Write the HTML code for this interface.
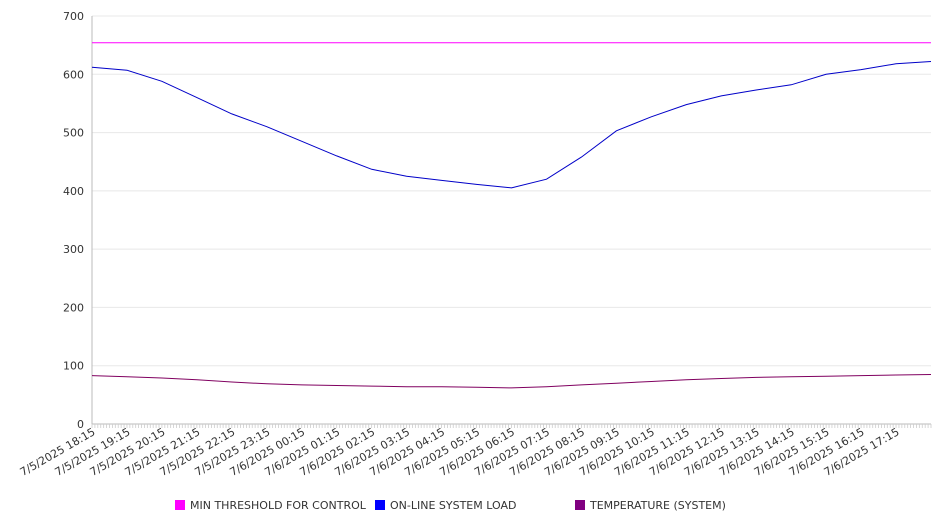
<!DOCTYPE html>
<html><head><meta charset="utf-8"><style>
body{margin:0;background:#fff;font-family:"DejaVu Sans","Liberation Sans",sans-serif;}
svg text{font-family:"DejaVu Sans","Liberation Sans",sans-serif;fill:#333;}
</style></head><body>
<svg id="chart" width="946" height="526" xmlns="http://www.w3.org/2000/svg"></svg>
<script>
const hourLabels=["7/5/2025 18:15","7/5/2025 19:15","7/5/2025 20:15","7/5/2025 21:15","7/5/2025 22:15","7/5/2025 23:15","7/6/2025 00:15","7/6/2025 01:15","7/6/2025 02:15","7/6/2025 03:15","7/6/2025 04:15","7/6/2025 05:15","7/6/2025 06:15","7/6/2025 07:15","7/6/2025 08:15","7/6/2025 09:15","7/6/2025 10:15","7/6/2025 11:15","7/6/2025 12:15","7/6/2025 13:15","7/6/2025 14:15","7/6/2025 15:15","7/6/2025 16:15","7/6/2025 17:15"];
const yTicks=[0,100,200,300,400,500,600,700];
const loadValues=[612,607,588,560,532,510,485,460,437,425,418,411,405,420,458,503,527,548,563,573,582,600,608,618,622];
const tempValues=[83,81,79,76,72,69,67,66,65,64,64,63,62,64,67,70,73,76,78,80,81,82,83,84,85];
const thresholdValues=[654,654];
const legendNames=["MIN THRESHOLD FOR CONTROL","ON-LINE SYSTEM LOAD","TEMPERATURE (SYSTEM)"];
const legendColors=["#ff00ff","#0000ff","#800080"];

const svg=document.getElementById('chart');const NS="http://www.w3.org/2000/svg";
const L=92,R=931,T=16,B=424,ymax=700,hours=24;
const y=v=>B-(v/ymax)*(B-T);
const xh=h=>L+(h/hours)*(R-L);
function mk(tag,attrs,parent){const e=document.createElementNS(NS,tag);for(const k in attrs)e.setAttribute(k,attrs[k]);(parent||svg).appendChild(e);return e;}
yTicks.forEach(v=>{
 const g=mk('line',{x1:L,x2:R,y1:y(v),y2:y(v),stroke:v===0?'#bbb':'#e8e8e8','stroke-width':1});
 
 const t=mk('text',{x:L-8,y:y(v)+4,'text-anchor':'end','font-size':11});t.textContent=v;
 
});
const ax=mk('line',{x1:L,x2:L,y1:T,y2:B,stroke:'#bbb'});
for(let i=0;i<=hours*12;i++){const xx=L+i*(R-L)/(hours*12);
 const tk=mk('line',{x1:xx,x2:xx,y1:B,y2:B+4,stroke:'#ccc','stroke-width':0.8});
 }
hourLabels.forEach((s,i)=>{const xx=xh(i)+4,yy=B+10;
 const t=mk('text',{x:xx,y:yy,'text-anchor':'end','font-size':11,transform:`rotate(-30 ${xx} ${yy})`});t.textContent=s;
 });
function series(vals,color,name){const n=vals.length-1;
 const d=vals.map((v,i)=>(i?'L':'M')+xh(i*hours/n).toFixed(1)+','+y(v).toFixed(1)).join(' ');
 const p=mk('path',{d:d,fill:'none',stroke:color,'stroke-width':1});
 }
series(thresholdValues,legendColors[0],'threshold-line');
series(loadValues,'#0000c8','load-line');
series(tempValues,'#800060','temperature-line');
const lx=[175,375,575];
legendNames.forEach((s,i)=>{const g=mk('g',{});
 
 mk('rect',{x:lx[i],y:500,width:10,height:10,fill:legendColors[i]},g);
 const t=mk('text',{x:lx[i]+15,y:509,'font-size':11},g);t.textContent=s;});
</script>
</body></html>
